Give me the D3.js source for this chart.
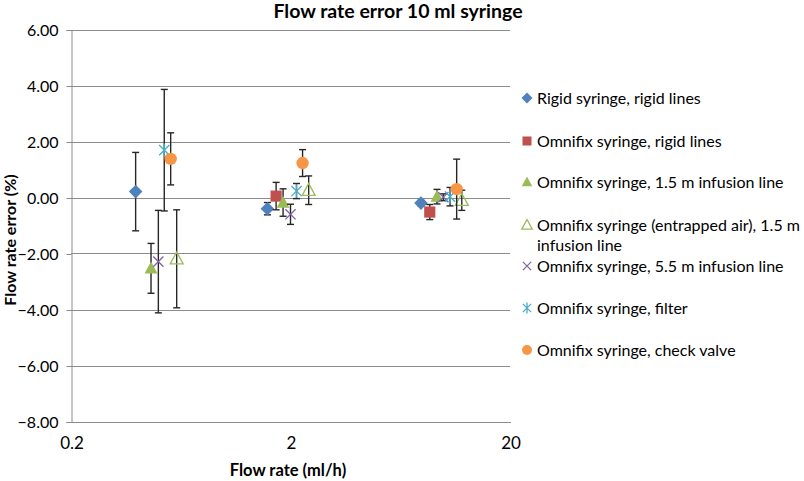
<!DOCTYPE html>
<html>
<head>
<meta charset="utf-8">
<script src="https://cdn.jsdelivr.net/npm/d3@7"></script>
<style>
  body { margin: 0; background: #fff; }
  text { font-family: Lato, "Open Sans", sans-serif; fill: #000; }
</style>
</head>
<body>
<div id="chart"></div>
<script>
// series, in legend order
const seriesNames = [
    "Rigid syringe, rigid lines",
    "Omnifix syringe, rigid lines",
    "Omnifix syringe, 1.5 m infusion line",
    "Omnifix syringe (entrapped air), 1.5 m|infusion line",
    "Omnifix syringe, 5.5 m infusion line",
    "Omnifix syringe, filter",
    "Omnifix syringe, check valve"
];
const seriesColors = ["#4F81BD", "#C0504D", "#9BBB59", "#9BBB59", "#8064A2", "#4BACC6", "#F79646"];
const seriesShapes = ["diamond", "square", "triangle", "triangleOpen", "times", "asterisk", "circle"];

// flow rate (ml/h), error (%) and error bar half-length, per series
const flowRates = [
    [0.394, 1.57, 7.86],
    [1.72, 8.62],
    [0.463, 1.85, 9.3],
    [0.606, 2.42, 12.06],
    [0.50, 2.0, 9.94],
    [0.532, 2.13, 10.66],
    [0.569, 2.27, 11.43]
];
const errors = [
    [0.21, -0.40, -0.20],
    [0.05, -0.52],
    [-2.53, -0.18, 0.03],
    [-2.19, 0.26, -0.10],
    [-2.29, -0.60, 0.01],
    [1.69, 0.23, 0.03],
    [1.38, 1.23, 0.30]
];
const errorBars = [
    [1.40, 0.22, 0.10],
    [0.49, 0.27],
    [0.89, 0.49, 0.26],
    [1.75, 0.51, 0.36],
    [1.83, 0.36, 0.12],
    [2.17, 0.27, 0.33],
    [0.93, 0.48, 1.07]
];
const xTicks = [0.2, 2, 20];
const yTicks = [-8, -6, -4, -2, 0, 2, 4, 6];

const width = 804, height = 481;
const plotLeft = 71, plotRight = 510, plotTop = 29.5, plotBottom = 421.5;

const svg = d3.select("#chart").append("svg")
    .attr("width", width)
    .attr("height", height);

const x = d3.scaleLog().domain([0.2, 20]).range([plotLeft, plotRight]);
const y = d3.scaleLinear().domain([-8, 6]).range([plotBottom, plotTop]);

// gridlines
svg.append("g")
    .selectAll("line")
    .data(yTicks.filter(d => d !== -8))
    .join("line")
    .attr("x1", plotLeft)
    .attr("x2", plotRight)
    .attr("y1", d => Math.round(y(d)) + 0.5)
    .attr("y2", d => Math.round(y(d)) + 0.5)
    .attr("stroke", "#8c8c8c")
    .attr("stroke-width", 1);

// y axis
const yAxis = svg.append("g")
    .attr("transform", `translate(${plotLeft + 0.5},0.5)`)
    .call(d3.axisLeft(y).tickValues(yTicks).tickFormat(d3.format(".2f")).tickSize(5).tickPadding(8));
yAxis.select(".domain").attr("stroke", "#8c8c8c");
yAxis.selectAll(".tick line").attr("stroke", "#8c8c8c");
yAxis.selectAll(".tick text")
    .style("font-size", "16px")
    .style("font-family", "Lato, sans-serif")
    .attr("fill", "#000");

// x axis
const xAxis = svg.append("g")
    .attr("transform", `translate(0.5,${plotBottom + 0.5})`)
    .call(d3.axisBottom(x).tickValues(xTicks).tickFormat(d => d).tickSize(0).tickPadding(15));
xAxis.select(".domain").attr("stroke", "#8c8c8c");
xAxis.selectAll(".tick text")
    .style("font-size", "17px")
    .style("font-family", "Lato, sans-serif")
    .attr("fill", "#000");

// titles
svg.append("text")
    .attr("x", 398)
    .attr("y", 18)
    .attr("text-anchor", "middle")
    .style("font-size", "19.5px")
    .style("font-weight", "bold")
    .text("Flow rate error 10 ml syringe");

svg.append("text")
    .attr("x", 288)
    .attr("y", 476)
    .attr("text-anchor", "middle")
    .style("font-size", "16.5px")
    .style("font-weight", "bold")
    .text("Flow rate (ml/h)");

svg.append("text")
    .attr("transform", "translate(16,240) rotate(-90)")
    .attr("text-anchor", "middle")
    .style("font-size", "16px")
    .style("font-weight", "bold")
    .text("Flow rate error (%)");

// marker shapes
function markerPath(shape, r) {
    const p = d3.path();
    if (shape === "diamond") {
        p.moveTo(0, -r); p.lineTo(r, 0); p.lineTo(0, r); p.lineTo(-r, 0); p.closePath();
    } else if (shape === "square") {
        p.rect(-r * 0.82, -r * 0.82, r * 1.64, r * 1.64);
    } else if (shape === "triangle" || shape === "triangleOpen") {
        p.moveTo(0, -r); p.lineTo(r * 0.95, r * 0.75); p.lineTo(-r * 0.95, r * 0.75); p.closePath();
    } else if (shape === "times") {
        const a = r * 0.75;
        p.moveTo(-a, -a); p.lineTo(a, a); p.moveTo(a, -a); p.lineTo(-a, a);
    } else if (shape === "asterisk") {
        const a = r * 0.75;
        p.moveTo(-a, -a); p.lineTo(a, a); p.moveTo(a, -a); p.lineTo(-a, a);
        p.moveTo(0, -r); p.lineTo(0, r);
    } else {
        p.arc(0, 0, r, 0, 2 * Math.PI);
    }
    return p.toString();
}

function styleMarker(sel, i) {
    const shape = seriesShapes[i];
    const stroked = shape === "times" || shape === "asterisk" || shape === "triangleOpen";
    sel.attr("fill", stroked ? "none" : seriesColors[i])
        .attr("stroke", stroked ? seriesColors[i] : "none")
        .attr("stroke-width", stroked ? 1.3 : 0);
}

const points = seriesNames.map((name, i) => flowRates[i].map((fr, j) => ({
    s: i, fr: fr, v: errors[i][j], e: errorBars[i][j]
})));

// error bars then markers, series by series
points.forEach((pts, i) => {
    const g = svg.append("g");
    const bars = g.selectAll("g.bar")
        .data(pts)
        .join("g")
        .attr("class", "bar")
        .attr("stroke", "#262626")
        .attr("stroke-width", 1.4);
    bars.append("line")
        .attr("x1", d => x(d.fr)).attr("x2", d => x(d.fr))
        .attr("y1", d => y(d.v + d.e)).attr("y2", d => y(d.v - d.e));
    bars.append("line")
        .attr("x1", d => x(d.fr) - 3.5).attr("x2", d => x(d.fr) + 3.5)
        .attr("y1", d => y(d.v + d.e)).attr("y2", d => y(d.v + d.e));
    bars.append("line")
        .attr("x1", d => x(d.fr) - 3.5).attr("x2", d => x(d.fr) + 3.5)
        .attr("y1", d => y(d.v - d.e)).attr("y2", d => y(d.v - d.e));

    g.selectAll("path")
        .data(pts)
        .join("path")
        .attr("transform", d => `translate(${x(d.fr)},${y(d.v)})`)
        .attr("d", markerPath(seriesShapes[i], seriesShapes[i] === "circle" ? 6.2 : 6.8))
        .call(styleMarker, i);
});

// legend
const legendY = [98, 141, 182, 225, 266, 308, 350];
const legend = svg.append("g");
seriesNames.forEach((name, i) => {
    const row = legend.append("g").attr("transform", `translate(527,${legendY[i]})`);
    row.append("path")
        .attr("d", markerPath(seriesShapes[i], seriesShapes[i] === "circle" ? 5 : 5.5))
        .call(styleMarker, i);
    const t = row.append("text")
        .attr("x", 10)
        .attr("y", 5.5)
        .style("font-size", "16px");
    name.split("|").forEach((line, k) => {
        t.append("tspan").attr("x", 10).attr("dy", k === 0 ? 0 : 20).text(line);
    });
});
</script>
</body>
</html>
